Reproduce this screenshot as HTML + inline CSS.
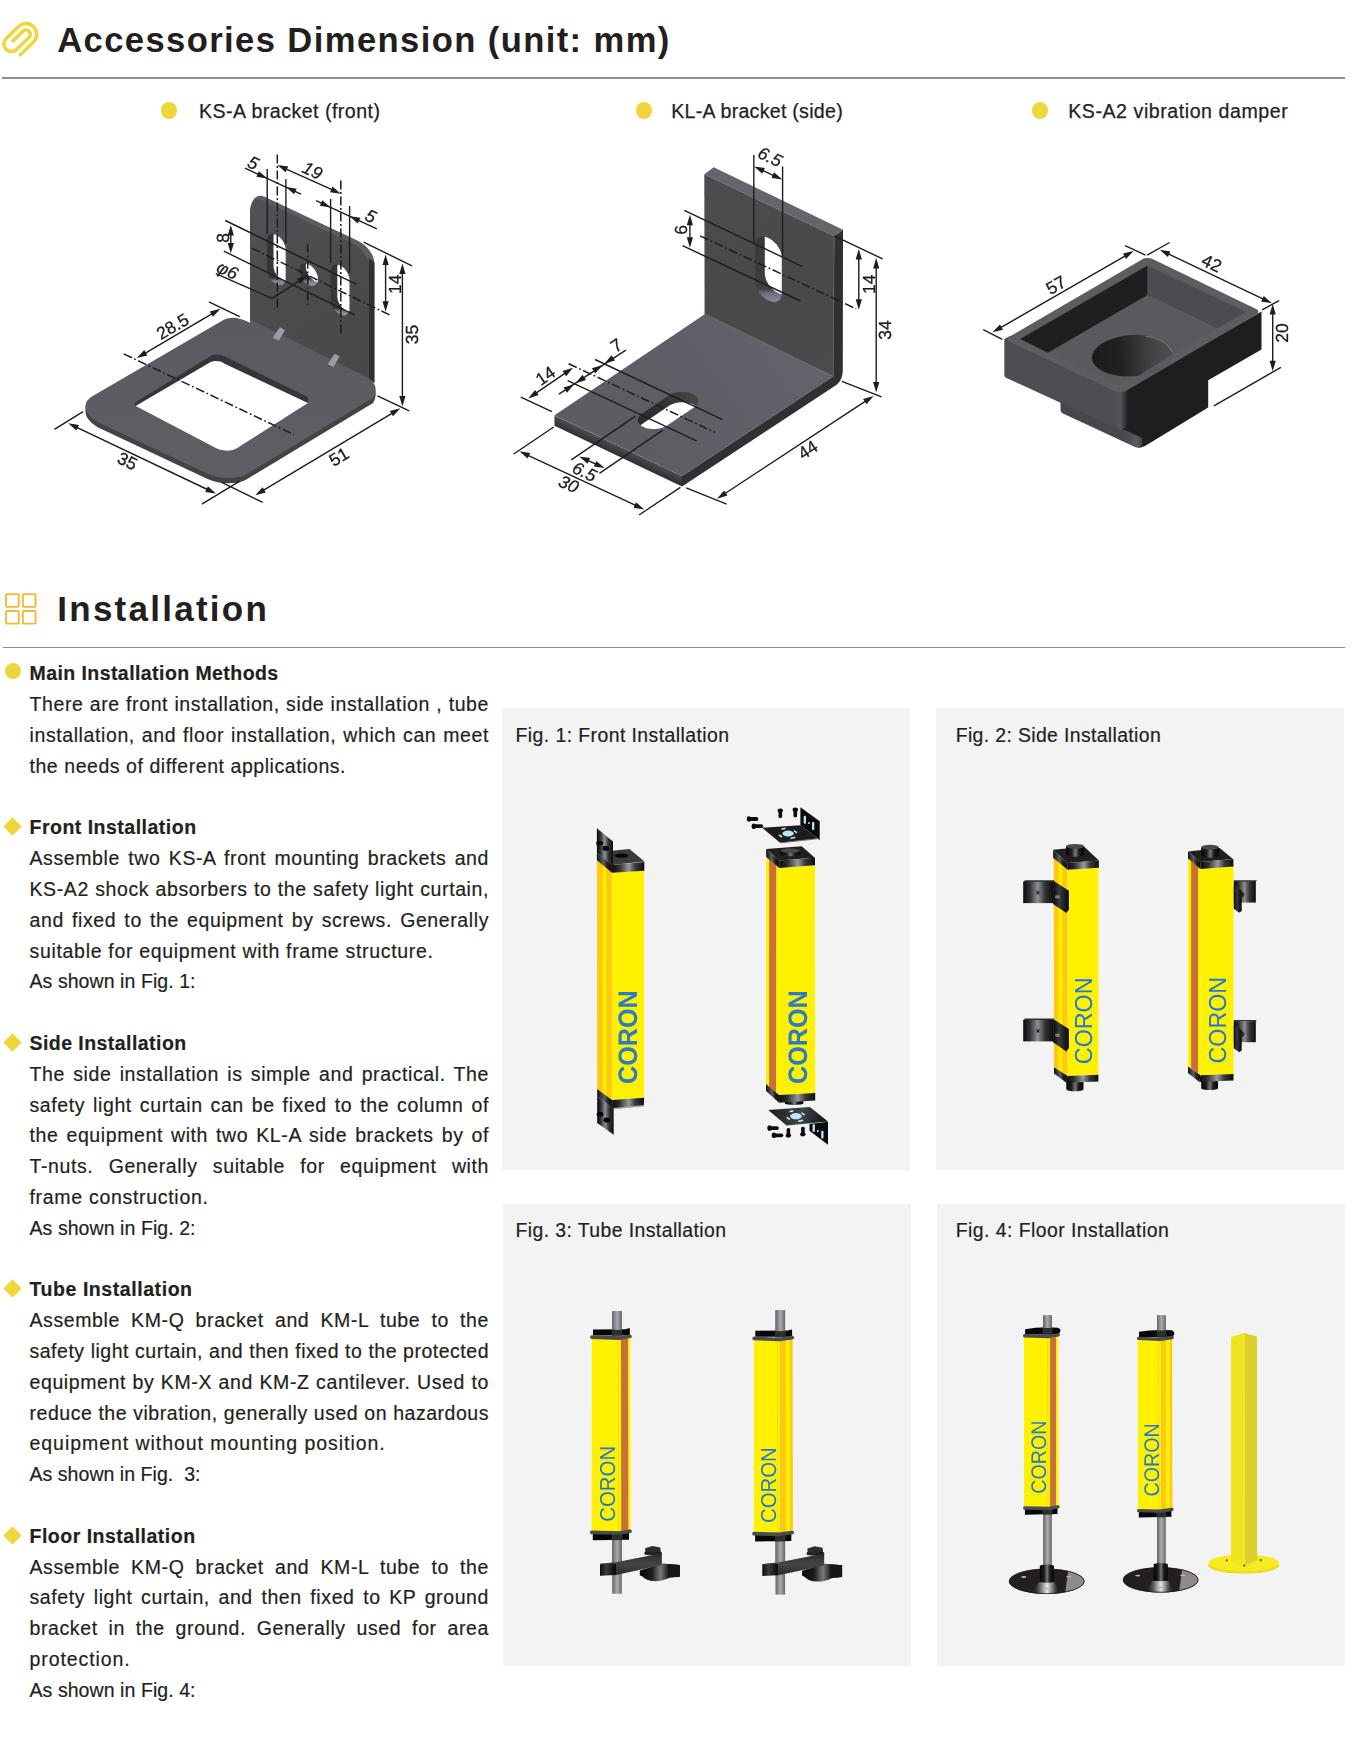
<!DOCTYPE html>
<html lang="en">
<head>
<meta charset="utf-8">
<title>Accessories Dimension and Installation</title>
<style>
*{box-sizing:border-box;margin:0;padding:0}
html,body{width:1364px;height:1747px;background:#fff;overflow:hidden}
body{position:relative;font-family:"Liberation Sans",sans-serif;color:#231f20}
.abs{position:absolute}
.h1{position:absolute;font-weight:700;font-size:34.6px;line-height:40px;white-space:nowrap;color:#231f20}
.rule{position:absolute;left:2px;width:1342.5px;height:1.8px;background:#8f8f90}
.sub{position:absolute;font-size:19.6px;line-height:24px;white-space:nowrap;color:#231f20;-webkit-text-stroke:0.25px #231f20}
.dot{position:absolute;width:16.4px;height:16.4px;border-radius:50%;background:#efd63c}
.dia{position:absolute;width:12.4px;height:12.4px;background:#efd63c;transform:rotate(45deg)}
.ln{position:absolute;left:29.5px;font-size:19.5px;line-height:30.8px;height:30.8px;white-space:nowrap;color:#231f20;-webkit-text-stroke:0.2px #231f20}
.ln.j{text-align:justify;text-align-last:justify;white-space:normal}
.ln.b{font-weight:700}
.panel{position:absolute;background:#f3f3f3}
.cap{position:absolute;font-size:19.4px;line-height:24px;white-space:nowrap;color:#231f20;-webkit-text-stroke:0.2px #231f20}
svg{position:absolute;overflow:visible;will-change:transform}
svg text{font-family:"Liberation Sans",sans-serif;text-rendering:geometricPrecision}
</style>
</head>
<body>
<!-- section 1 header -->
<svg style="left:0;top:18px" width="44" height="42" viewBox="0 18 44 42">
  <path d="M12.82 40.91 L22.94 31.13 A4.4 4.4 0 0 1 29.05 37.46 L16.62 49.47 A7.55 7.55 0 0 1 6.13 38.61 L18.56 26.6 A10.7 10.7 0 0 1 33.43 41.99 L20.14 54.82" fill="none" stroke="#efd63c" stroke-width="3.55" stroke-linecap="round" stroke-linejoin="round"/>
</svg>
<div class="h1" id="t1" style="left:57.2px;top:20.4px;letter-spacing:1.4px">Accessories Dimension (unit: mm)</div>
<div class="rule" style="top:77.2px"></div>

<div class="dot" style="left:161px;top:102.4px"></div>
<div class="sub" id="s1" style="left:198.9px;top:99px;letter-spacing:0.48px">KS-A bracket (front)</div>
<div class="dot" style="left:635.8px;top:102.4px"></div>
<div class="sub" id="s2" style="left:671.2px;top:99px;letter-spacing:0.27px">KL-A bracket (side)</div>
<div class="dot" style="left:1031.8px;top:102.4px"></div>
<div class="sub" id="s3" style="left:1068.2px;top:99px;letter-spacing:0.55px">KS-A2 vibration damper</div>

<!-- section 2 header -->
<svg style="left:0;top:588px" width="44" height="42" viewBox="0 588 44 42">
  <g fill="none" stroke="#efb93b" stroke-width="1.9">
    <rect x="6.05" y="594.15" width="12.7" height="12.7" rx="0.8"/>
    <rect x="22.85" y="594.15" width="12.7" height="12.7" rx="0.8"/>
    <rect x="6.05" y="610.95" width="12.7" height="12.7" rx="0.8"/>
    <rect x="22.85" y="610.95" width="12.7" height="12.7" rx="0.8"/>
  </g>
</svg>
<div class="h1" id="t2" style="left:57.3px;top:589.1px;letter-spacing:2.25px;font-size:35px">Installation</div>
<div class="rule" style="top:646.9px;left:3px;width:1341.5px;height:1.5px"></div>

<!-- figure panels -->
<div class="panel" style="left:502px;top:708px;width:408px;height:462px"></div>
<div class="panel" style="left:936px;top:708px;width:408px;height:462px"></div>
<div class="panel" style="left:503px;top:1204px;width:408px;height:462px"></div>
<div class="panel" style="left:937px;top:1204px;width:408px;height:462px"></div>
<div class="cap" id="c1" style="left:515.6px;top:723px;letter-spacing:0.43px">Fig. 1: Front Installation</div>
<div class="cap" id="c2" style="left:955.7px;top:723px;letter-spacing:0.37px">Fig. 2: Side Installation</div>
<div class="cap" id="c3" style="left:515.5px;top:1218px;letter-spacing:0.42px">Fig. 3: Tube Installation</div>
<div class="cap" id="c4" style="left:955.7px;top:1218px;letter-spacing:0.46px">Fig. 4: Floor Installation</div>
<!-- installation text -->
<div class="ln b" style="top:658.34px;letter-spacing:0.430px">Main Installation Methods</div>
<div class="dot" style="left:4.7px;top:662.9px"></div>
<div class="ln j" style="top:689.14px;width:459.5px;letter-spacing:0.600px">There are front installation, side installation , tube</div>
<div class="ln j" style="top:719.94px;width:459.5px;letter-spacing:0.600px">installation, and floor installation, which can meet</div>
<div class="ln" style="top:750.74px;letter-spacing:0.553px">the needs of different applications.</div>
<div class="ln b" style="top:812.34px;letter-spacing:0.496px">Front Installation</div>
<div class="dia" style="left:6.4px;top:820.2px;width:13px;height:13px"></div>
<div class="ln j" style="top:843.14px;width:459.5px;letter-spacing:0.600px">Assemble two KS-A front mounting brackets and</div>
<div class="ln j" style="top:873.94px;width:459.5px;letter-spacing:0.600px">KS-A2 shock absorbers to the safety light curtain,</div>
<div class="ln j" style="top:904.74px;width:459.5px;letter-spacing:0.600px">and fixed to the equipment by screws. Generally</div>
<div class="ln" style="top:935.54px;letter-spacing:0.686px">suitable for equipment with frame structure.</div>
<div class="ln" style="top:966.34px;letter-spacing:0.071px">As shown in Fig. 1:</div>
<div class="ln b" style="top:1027.94px;letter-spacing:0.445px">Side Installation</div>
<div class="dia" style="left:6.4px;top:1035.8px;width:13px;height:13px"></div>
<div class="ln j" style="top:1058.74px;width:459.5px;letter-spacing:0.600px">The side installation is simple and practical. The</div>
<div class="ln j" style="top:1089.54px;width:459.5px;letter-spacing:0.600px">safety light curtain can be fixed to the column of</div>
<div class="ln j" style="top:1120.34px;width:459.5px;letter-spacing:0.600px">the equipment with two KL-A side brackets by of</div>
<div class="ln j" style="top:1151.14px;width:459.5px;letter-spacing:0.600px">T-nuts. Generally suitable for equipment with</div>
<div class="ln" style="top:1181.94px;letter-spacing:0.699px">frame construction.</div>
<div class="ln" style="top:1212.74px;letter-spacing:0.071px">As shown in Fig. 2:</div>
<div class="ln b" style="top:1274.34px;letter-spacing:0.566px">Tube Installation</div>
<div class="dia" style="left:6.4px;top:1282.2px;width:13px;height:13px"></div>
<div class="ln j" style="top:1305.14px;width:459.5px;letter-spacing:0.600px">Assemble KM-Q bracket and KM-L tube to the</div>
<div class="ln j" style="top:1335.94px;width:459.5px;letter-spacing:0.509px">safety light curtain, and then fixed to the protected</div>
<div class="ln j" style="top:1366.74px;width:459.5px;letter-spacing:0.600px">equipment by KM-X and KM-Z cantilever. Used to</div>
<div class="ln j" style="top:1397.54px;width:459.5px;letter-spacing:0.530px">reduce the vibration, generally used on hazardous</div>
<div class="ln" style="top:1428.34px;letter-spacing:0.949px">equipment without mounting position.</div>
<div class="ln" style="top:1459.14px;letter-spacing:0.046px">As shown in Fig.&nbsp; 3:</div>
<div class="ln b" style="top:1520.74px;letter-spacing:0.500px">Floor Installation</div>
<div class="dia" style="left:6.4px;top:1528.7px;width:13px;height:13px"></div>
<div class="ln j" style="top:1551.54px;width:459.5px;letter-spacing:0.600px">Assemble KM-Q bracket and KM-L tube to the</div>
<div class="ln j" style="top:1582.34px;width:459.5px;letter-spacing:0.600px">safety light curtain, and then fixed to KP ground</div>
<div class="ln j" style="top:1613.14px;width:459.5px;letter-spacing:0.600px">bracket in the ground. Generally used for area</div>
<div class="ln" style="top:1643.94px;letter-spacing:0.912px">protection.</div>
<div class="ln" style="top:1674.74px;letter-spacing:0.071px">As shown in Fig. 4:</div>
<!-- drawing 1: KS-A bracket (front) -->
<svg style="left:0;top:130px" width="480" height="400" viewBox="0 130 480 400">
<defs>
<linearGradient id="d1v" gradientUnits="userSpaceOnUse" x1="250" y1="200" x2="370" y2="380"><stop offset="0" stop-color="#515055"/><stop offset="0.55" stop-color="#4d4a4c"/><stop offset="1" stop-color="#48474a"/></linearGradient>
<linearGradient id="d1h" gradientUnits="userSpaceOnUse" x1="230" y1="320" x2="230" y2="480"><stop offset="0" stop-color="#5a5b61"/><stop offset="1" stop-color="#5e5f65"/></linearGradient>
<linearGradient id="d1s" gradientUnits="userSpaceOnUse" x1="0" y1="230" x2="0" y2="320"><stop offset="0" stop-color="#2b2a2c"/><stop offset="0.86" stop-color="#2f2e30"/><stop offset="0.9" stop-color="#85868d"/><stop offset="1" stop-color="#9a9ba2"/></linearGradient>
</defs>
<path d="M92.7 401.2 L223 325.5 C229 322 238 321.8 250 328 L252 317.3 L368 375.3 L369.6 383.6 L373.1 388 C376.3 390.8 376.6 397.3 373.1 403 L246.4 479.5 C237 484.9 219.4 484.6 207 478.8 L101.9 429.2 C84.4 421 80.3 408.4 92.7 401.2 Z" fill="#434245" />
<path d="M92.7 398.5 L223 322.8 C229 319.3 238 319.1 250 325.3 L252 314.6 L368 372.6 L369.6 380.9 L373.1 385.3 C376.3 388.1 376.6 394.6 373.1 400.3 L246.4 476.8 C237 482.2 219.4 481.9 207 476.1 L101.9 426.5 C84.4 418.3 80.3 405.7 92.7 398.5 Z" fill="#434245" />
<path d="M92.7 395.9 L223 320.2 C229 316.7 238 316.5 250 322.7 L252 312 L368 370 L369.6 378.3 L373.1 382.7 C376.3 385.5 376.6 392 373.1 397.7 L246.4 474.2 C237 479.6 219.4 479.3 207 473.5 L101.9 423.9 C84.4 415.7 80.3 403.1 92.7 395.9 Z M133.2 403.8 L210.9 356.1 C214.5 353.9 221.1 354.3 225.6 356.9 L306.5 396.6 C309.3 398 309.3 400.9 306.5 402.9 L237.3 447.8 C231.1 451.8 220.5 451.4 213.8 447 L137.5 406.9 C134.2 405.1 133.5 402.9 136 402 Z" fill="url(#d1h)" fill-rule="evenodd"/>
<path d="M133.2 403.8 L210.9 356.1 C214.5 353.9 221.1 354.3 225.6 356.9 L306.5 396.6 C309.3 398 309.3 400.9 306.5 402.9 L237.3 447.8 C231.1 451.8 220.5 451.4 213.8 447 L137.5 406.9 C134.2 405.1 133.5 402.9 136 402 Z" fill="#363537" />
<path d="M135.6 406.0 L209.4 362.7 C213.5 360.3 220.1 360.6 224.1 363.5 L307.9 403.1 L237.3 447.9 C231.1 451.9 220.5 451.5 213.8 447.1 Z" fill="#ffffff" />
<path d="M250 321 L250 213 C250 200.3 256.3 193 264 196.6 L358.4 240.9 C367.2 245.3 374.4 255 374.4 262.5 L374.4 383.2 L368.6 378.0 Z" fill="#5c5c61" />
<polygon points="368.6,258 374.4,262.5 374.4,383.2 368.6,378" fill="#2f2e31" />
<path d="M250 319.5 L250 214.5 C250 203.5 255.6 197.2 262.5 200.5 L353 243.4 C361.7 247.5 368.8 257.7 368.8 266 L368.8 378.1 Z" fill="url(#d1v)" />
<defs>
<clipPath id="d1ca"><path d="M285.7 249.7 L285.6 247.8 L285.1 245.9 L284.4 243.9 L283.5 242 L282.3 240.2 L281 238.6 L279.5 237.1 L277.9 235.9 L276.3 234.9 L274.7 234.3 L273.1 234 L271.6 234.1 L270.3 234.5 L269.1 235.2 L268.2 236.2 L267.5 237.5 L267 239 L266.9 240.7 L266.9 269.3 L267 271.2 L267.5 273.1 L268.2 275.1 L269.1 277 L270.3 278.8 L271.6 280.4 L273.1 281.9 L274.7 283.1 L276.3 284.1 L277.9 284.7 L279.5 285 L281 284.9 L282.3 284.5 L283.5 283.8 L284.4 282.8 L285.1 281.5 L285.6 280 L285.7 278.3 Z"/></clipPath>
<clipPath id="d1cb"><path d="M318 279.1 L317.9 277.2 L317.4 275.3 L316.7 273.3 L315.8 271.4 L314.6 269.6 L313.3 268 L311.8 266.5 L310.2 265.3 L308.6 264.4 L307 263.7 L305.4 263.4 L303.9 263.5 L302.6 263.9 L301.4 264.6 L300.5 265.6 L299.8 266.9 L299.3 268.4 L299.2 270.1 L299.2 270.1 L299.3 272 L299.8 273.9 L300.5 275.9 L301.4 277.8 L302.6 279.6 L303.9 281.2 L305.4 282.7 L307 283.9 L308.6 284.9 L310.2 285.5 L311.8 285.8 L313.3 285.7 L314.6 285.3 L315.8 284.6 L316.7 283.6 L317.4 282.3 L317.9 280.8 L318 279.1 Z"/></clipPath>
<clipPath id="d1cc"><path d="M349.5 280.2 L349.4 278.3 L348.9 276.4 L348.2 274.4 L347.3 272.5 L346.1 270.7 L344.8 269.1 L343.3 267.6 L341.7 266.4 L340.1 265.4 L338.5 264.8 L336.9 264.5 L335.4 264.6 L334.1 265 L332.9 265.7 L332 266.7 L331.3 268 L330.8 269.5 L330.7 271.2 L330.7 299.8 L330.8 301.7 L331.3 303.6 L332 305.6 L332.9 307.5 L334.1 309.3 L335.4 310.9 L336.9 312.4 L338.5 313.6 L340.1 314.6 L341.7 315.2 L343.3 315.5 L344.8 315.4 L346.1 315 L347.3 314.3 L348.2 313.3 L348.9 312 L349.4 310.5 L349.5 308.8 Z"/></clipPath>
</defs>
<linearGradient id="d1ga" gradientUnits="userSpaceOnUse" x1="0" y1="234" x2="0" y2="285"><stop offset="0" stop-color="#343235"/><stop offset="0.863" stop-color="#3a3836"/><stop offset="0.912" stop-color="#7c7d84"/><stop offset="1" stop-color="#9b9ca3"/></linearGradient>
<path d="M285.7 249.7 L285.6 247.8 L285.1 245.9 L284.4 243.9 L283.5 242 L282.3 240.2 L281 238.6 L279.5 237.1 L277.9 235.9 L276.3 234.9 L274.7 234.3 L273.1 234 L271.6 234.1 L270.3 234.5 L269.1 235.2 L268.2 236.2 L267.5 237.5 L267 239 L266.9 240.7 L266.9 269.3 L267 271.2 L267.5 273.1 L268.2 275.1 L269.1 277 L270.3 278.8 L271.6 280.4 L273.1 281.9 L274.7 283.1 L276.3 284.1 L277.9 284.7 L279.5 285 L281 284.9 L282.3 284.5 L283.5 283.8 L284.4 282.8 L285.1 281.5 L285.6 280 L285.7 278.3 Z" fill="url(#d1ga)" />
<path d="M292.3 246.1 L292.2 244.2 L291.7 242.3 L291 240.3 L290.1 238.4 L288.9 236.6 L287.6 235 L286.1 233.5 L284.5 232.3 L282.9 231.3 L281.3 230.7 L279.7 230.4 L278.2 230.5 L276.9 230.9 L275.7 231.6 L274.8 232.6 L274.1 233.9 L273.6 235.4 L273.5 237.1 L273.5 265.7 L273.6 267.6 L274.1 269.5 L274.8 271.5 L275.7 273.4 L276.9 275.2 L278.2 276.8 L279.7 278.3 L281.3 279.5 L282.9 280.4 L284.5 281.1 L286.1 281.4 L287.6 281.3 L288.9 280.9 L290.1 280.2 L291 279.2 L291.7 277.9 L292.2 276.4 L292.3 274.7 Z" fill="#ffffff" clip-path="url(#d1ca)"/>
<linearGradient id="d1gb" gradientUnits="userSpaceOnUse" x1="0" y1="263.4" x2="0" y2="285.8"><stop offset="0" stop-color="#343235"/><stop offset="0.687" stop-color="#3a3836"/><stop offset="0.799" stop-color="#7c7d84"/><stop offset="1" stop-color="#9b9ca3"/></linearGradient>
<path d="M318 279.1 L317.9 277.2 L317.4 275.3 L316.7 273.3 L315.8 271.4 L314.6 269.6 L313.3 268 L311.8 266.5 L310.2 265.3 L308.6 264.4 L307 263.7 L305.4 263.4 L303.9 263.5 L302.6 263.9 L301.4 264.6 L300.5 265.6 L299.8 266.9 L299.3 268.4 L299.2 270.1 L299.2 270.1 L299.3 272 L299.8 273.9 L300.5 275.9 L301.4 277.8 L302.6 279.6 L303.9 281.2 L305.4 282.7 L307 283.9 L308.6 284.9 L310.2 285.5 L311.8 285.8 L313.3 285.7 L314.6 285.3 L315.8 284.6 L316.7 283.6 L317.4 282.3 L317.9 280.8 L318 279.1 Z" fill="url(#d1gb)" />
<path d="M324.6 275.5 L324.5 273.6 L324 271.7 L323.3 269.7 L322.4 267.8 L321.2 266 L319.9 264.4 L318.4 262.9 L316.8 261.7 L315.2 260.8 L313.6 260.1 L312 259.8 L310.5 259.9 L309.2 260.3 L308 261 L307.1 262 L306.4 263.3 L305.9 264.8 L305.8 266.5 L305.8 266.5 L305.9 268.4 L306.4 270.3 L307.1 272.3 L308 274.2 L309.2 276 L310.5 277.6 L312 279.1 L313.6 280.3 L315.2 281.2 L316.8 281.9 L318.4 282.2 L319.9 282.1 L321.2 281.7 L322.4 281 L323.3 280 L324 278.7 L324.5 277.2 L324.6 275.5 Z" fill="#ffffff" clip-path="url(#d1cb)"/>
<linearGradient id="d1gc" gradientUnits="userSpaceOnUse" x1="0" y1="264.5" x2="0" y2="315.5"><stop offset="0" stop-color="#343235"/><stop offset="0.863" stop-color="#3a3836"/><stop offset="0.912" stop-color="#7c7d84"/><stop offset="1" stop-color="#9b9ca3"/></linearGradient>
<path d="M349.5 280.2 L349.4 278.3 L348.9 276.4 L348.2 274.4 L347.3 272.5 L346.1 270.7 L344.8 269.1 L343.3 267.6 L341.7 266.4 L340.1 265.4 L338.5 264.8 L336.9 264.5 L335.4 264.6 L334.1 265 L332.9 265.7 L332 266.7 L331.3 268 L330.8 269.5 L330.7 271.2 L330.7 299.8 L330.8 301.7 L331.3 303.6 L332 305.6 L332.9 307.5 L334.1 309.3 L335.4 310.9 L336.9 312.4 L338.5 313.6 L340.1 314.6 L341.7 315.2 L343.3 315.5 L344.8 315.4 L346.1 315 L347.3 314.3 L348.2 313.3 L348.9 312 L349.4 310.5 L349.5 308.8 Z" fill="url(#d1gc)" />
<path d="M356.1 276.6 L356 274.7 L355.5 272.8 L354.8 270.8 L353.9 268.9 L352.7 267.1 L351.4 265.5 L349.9 264 L348.3 262.8 L346.7 261.8 L345.1 261.2 L343.5 260.9 L342 261 L340.7 261.4 L339.5 262.1 L338.6 263.1 L337.9 264.4 L337.4 265.9 L337.3 267.6 L337.3 296.2 L337.4 298.1 L337.9 300 L338.6 302 L339.5 303.9 L340.7 305.7 L342 307.3 L343.5 308.8 L345.1 310 L346.7 310.9 L348.3 311.6 L349.9 311.9 L351.4 311.8 L352.7 311.4 L353.9 310.7 L354.8 309.7 L355.5 308.4 L356 306.9 L356.1 305.2 Z" fill="#ffffff" clip-path="url(#d1cc)"/>
<polygon points="279.8,327.3 285.1,329.9 278.9,340.5 272.8,337.8" fill="#9c9ca4" />
<polygon points="334.4,353.7 339.7,356.3 333.5,366.9 327.7,364.2" fill="#9c9ca4" />
<g>
<line x1="244.9" y1="168.1" x2="301" y2="194.1" stroke="#1d1d1f" stroke-width="1.4"/>
<polygon points="267.2,178.4 256.4,176.8 259,171.2" fill="#1d1d1f" />
<polygon points="285.9,187.1 296.7,188.7 294.1,194.3" fill="#1d1d1f" />
<line x1="267.2" y1="168.9" x2="267.2" y2="233.8" stroke="#1d1d1f" stroke-width="1.4"/>
<line x1="285.9" y1="179" x2="285.9" y2="243.5" stroke="#1d1d1f" stroke-width="1.4"/>
<text transform="translate(253.4 162.6) rotate(25.3)" x="0" y="6.3" text-anchor="middle" font-size="17.5" fill="#1d1d1f" stroke="#1d1d1f" stroke-width="0.3" font-style="italic">5</text>
<line x1="277.3" y1="154.5" x2="277.3" y2="309" stroke="#1d1d1f" stroke-width="1.5" stroke-dasharray="9 2.6 1.8 2.6"/>
<line x1="340.8" y1="180.5" x2="340.8" y2="335" stroke="#1d1d1f" stroke-width="1.5" stroke-dasharray="9 2.6 1.8 2.6"/>
<line x1="307.7" y1="243.8" x2="307.7" y2="307.2" stroke="#1d1d1f" stroke-width="1.5" stroke-dasharray="9 2.6 1.8 2.6"/>
<line x1="282.9" y1="167.6" x2="335.3" y2="191.2" stroke="#1d1d1f" stroke-width="1.4"/>
<polygon points="277.4,165.1 288.2,166.6 285.7,172.2" fill="#1d1d1f" />
<polygon points="340.8,193.7 330,192.2 332.5,186.6" fill="#1d1d1f" />
<text transform="translate(312.6 170.2) rotate(25.3)" x="0" y="6.3" text-anchor="middle" font-size="17.5" fill="#1d1d1f" stroke="#1d1d1f" stroke-width="0.3" font-style="italic">19</text>
<line x1="316.1" y1="200.7" x2="376.8" y2="228.9" stroke="#1d1d1f" stroke-width="1.4"/>
<polygon points="330.6,207.4 319.8,205.8 322.4,200.2" fill="#1d1d1f" />
<polygon points="349.6,216.2 360.4,217.8 357.8,223.4" fill="#1d1d1f" />
<line x1="330.6" y1="199" x2="330.6" y2="263.2" stroke="#1d1d1f" stroke-width="1.4"/>
<line x1="349.6" y1="206" x2="349.6" y2="272.9" stroke="#1d1d1f" stroke-width="1.4"/>
<text transform="translate(370.9 215.9) rotate(25.3)" x="0" y="6.3" text-anchor="middle" font-size="17.5" fill="#1d1d1f" stroke="#1d1d1f" stroke-width="0.3" font-style="italic">5</text>
<line x1="230.8" y1="230.9" x2="230.8" y2="247.5" stroke="#1d1d1f" stroke-width="1.4"/>
<polygon points="230.8,224.9 233.9,235.4 227.7,235.4" fill="#1d1d1f" />
<polygon points="230.8,253.5 227.7,243 233.9,243" fill="#1d1d1f" />
<text transform="translate(222.2 237.9) rotate(-90)" x="0" y="6.3" text-anchor="middle" font-size="17.5" fill="#1d1d1f" stroke="#1d1d1f" stroke-width="0.3" >8</text>
<line x1="225.3" y1="220.5" x2="356.6" y2="284.3" stroke="#1d1d1f" stroke-width="1.4"/>
<line x1="223.8" y1="251.2" x2="354.8" y2="315.1" stroke="#1d1d1f" stroke-width="1.4"/>
<line x1="251.9" y1="248.2" x2="391.8" y2="316" stroke="#1d1d1f" stroke-width="1.5" stroke-dasharray="9 2.6 1.8 2.6"/>
<line x1="215.8" y1="273.7" x2="272.1" y2="298.4" stroke="#1d1d1f" stroke-width="1.4"/>
<line x1="272.1" y1="298.4" x2="301" y2="279.6" stroke="#1d1d1f" stroke-width="1.4"/>
<polygon points="307.3,275.5 300.2,283.8 296.8,278.6" fill="#1d1d1f" />
<text transform="translate(227.6 270) rotate(25.3)" x="0" y="6.3" text-anchor="middle" font-size="17.5" fill="#1d1d1f" stroke="#1d1d1f" stroke-width="0.3" font-style="italic">φ6</text>
<line x1="385.6" y1="260.4" x2="385.6" y2="305.8" stroke="#1d1d1f" stroke-width="1.4"/>
<polygon points="385.6,254.4 388.7,264.9 382.5,264.9" fill="#1d1d1f" />
<polygon points="385.6,311.8 382.5,301.3 388.7,301.3" fill="#1d1d1f" />
<text transform="translate(394.6 284.3) rotate(-90)" x="0" y="6.3" text-anchor="middle" font-size="17.5" fill="#1d1d1f" stroke="#1d1d1f" stroke-width="0.3" >14</text>
<line x1="402.4" y1="269.4" x2="402.4" y2="400.6" stroke="#1d1d1f" stroke-width="1.4"/>
<polygon points="402.4,263.4 405.5,273.9 399.3,273.9" fill="#1d1d1f" />
<polygon points="402.4,406.6 399.3,396.1 405.5,396.1" fill="#1d1d1f" />
<text transform="translate(411.3 334.6) rotate(-90)" x="0" y="6.3" text-anchor="middle" font-size="17.5" fill="#1d1d1f" stroke="#1d1d1f" stroke-width="0.3" >35</text>
<line x1="363.6" y1="242.1" x2="412" y2="265.8" stroke="#1d1d1f" stroke-width="1.4"/>
<line x1="142" y1="355.1" x2="215.2" y2="311.8" stroke="#1d1d1f" stroke-width="1.4"/>
<polygon points="136.8,358.1 144.3,350.1 147.4,355.4" fill="#1d1d1f" />
<polygon points="220.4,308.8 212.9,316.8 209.8,311.5" fill="#1d1d1f" />
<text transform="translate(172.4 326.2) rotate(-30.5)" x="0" y="6.3" text-anchor="middle" font-size="17.5" fill="#1d1d1f" stroke="#1d1d1f" stroke-width="0.3" >28.5</text>
<line x1="208.9" y1="301.8" x2="239.7" y2="316.7" stroke="#1d1d1f" stroke-width="1.4"/>
<line x1="123.7" y1="353.9" x2="293.8" y2="434.6" stroke="#1d1d1f" stroke-width="1.5" stroke-dasharray="9 2.6 1.8 2.6"/>
<line x1="73.6" y1="425.8" x2="210.6" y2="491" stroke="#1d1d1f" stroke-width="1.4"/>
<polygon points="68.2,423.2 79,424.9 76.3,430.5" fill="#1d1d1f" />
<polygon points="216,493.6 205.2,491.9 207.9,486.3" fill="#1d1d1f" />
<text transform="translate(127.4 460.8) rotate(25.5)" x="0" y="6.3" text-anchor="middle" font-size="17.5" fill="#1d1d1f" stroke="#1d1d1f" stroke-width="0.3" >35</text>
<line x1="54.4" y1="429.3" x2="83.1" y2="411.7" stroke="#1d1d1f" stroke-width="1.4"/>
<line x1="201.9" y1="504.1" x2="239.7" y2="481.2" stroke="#1d1d1f" stroke-width="1.4"/>
<line x1="260.3" y1="492.2" x2="395.3" y2="411.3" stroke="#1d1d1f" stroke-width="1.4"/>
<polygon points="255.2,495.3 262.6,487.2 265.8,492.6" fill="#1d1d1f" />
<polygon points="400.4,408.2 393,416.3 389.8,410.9" fill="#1d1d1f" />
<text transform="translate(338.8 456.6) rotate(-31)" x="0" y="6.3" text-anchor="middle" font-size="17.5" fill="#1d1d1f" stroke="#1d1d1f" stroke-width="0.3" >51</text>
<line x1="221.2" y1="482.1" x2="262.6" y2="502.4" stroke="#1d1d1f" stroke-width="1.4"/>
<line x1="377.5" y1="395.9" x2="409.2" y2="410.9" stroke="#1d1d1f" stroke-width="1.4"/>
</g>
</svg>
<!-- drawing 2: KL-A bracket (side) -->
<svg style="left:500px;top:130px" width="440" height="400" viewBox="500 130 440 400">
<defs>
<linearGradient id="d2v" gradientUnits="userSpaceOnUse" x1="704" y1="180" x2="834" y2="376"><stop offset="0" stop-color="#4c4b4f"/><stop offset="0.6" stop-color="#4b4849"/><stop offset="1" stop-color="#4b4a4e"/></linearGradient>
<linearGradient id="d2h" gradientUnits="userSpaceOnUse" x1="600" y1="460" x2="770" y2="340"><stop offset="0" stop-color="#5b5c62"/><stop offset="1" stop-color="#61626a"/></linearGradient>
<linearGradient id="d2f" gradientUnits="userSpaceOnUse" x1="0" y1="0" x2="4.7" y2="-10" gradientTransform="translate(600 448)"><stop offset="0" stop-color="#2e2d2f"/><stop offset="0.8" stop-color="#4a494c"/><stop offset="1" stop-color="#6a6a70"/></linearGradient>
<linearGradient id="d2w" gradientUnits="userSpaceOnUse" x1="0" y1="236" x2="0" y2="302"><stop offset="0" stop-color="#39383b"/><stop offset="0.80" stop-color="#3e3d40"/><stop offset="0.86" stop-color="#6b6c7a"/><stop offset="1" stop-color="#8d8e98"/></linearGradient>
<linearGradient id="d2x" gradientUnits="userSpaceOnUse" x1="640" y1="420" x2="700" y2="395"><stop offset="0" stop-color="#2c2b2d"/><stop offset="0.5" stop-color="#343335"/><stop offset="1" stop-color="#4a494b"/></linearGradient>
</defs>
<path d="M834.2 235.9 L843 229.7 L842.8 369 C842.8 378 840 382.5 834.8 386 L682 486.6 L682 476 L833.1 376.5 Z" fill="#302f31" />
<polygon points="554.5,415.3 682,476 682,486.6 554.5,425.8" fill="url(#d2f)" />
<polygon points="554.5,415.3 705,314.1 833.4,376.6 682,476" fill="url(#d2h)" />
<polygon points="704.3,174.3 713.7,167.3 843,229.7 834.2,235.9" fill="#65666c" />
<polygon points="704.3,174.3 834.2,235.9 833.4,376.6 704.6,314.1" fill="url(#d2v)" />
<line x1="834" y1="236.5" x2="833.3" y2="376.2" stroke="#5f5f64" stroke-width="1.0"/>
<line x1="704.8" y1="314.3" x2="833.2" y2="376.5" stroke="#6c6d74" stroke-width="1.0"/>
<defs><clipPath id="d2c1"><path d="M781.8 257.7 L781.7 255.9 L781.3 254 L780.8 252.1 L780 250.2 L779 248.2 L777.9 246.4 L776.6 244.6 L775.1 242.9 L773.5 241.4 L771.9 240 L770.1 238.9 L768.4 237.9 L766.7 237.2 L764.9 236.7 L763.3 236.4 L761.7 236.4 L760.2 236.7 L758.9 237.2 L757.8 238 L756.8 238.9 L756 240.1 L755.5 241.5 L755.1 243.1 L755 244.7 L755 280.6 L755.1 282.4 L755.5 284.3 L756 286.2 L756.8 288.1 L757.8 290.1 L758.9 291.9 L760.2 293.7 L761.7 295.4 L763.3 296.9 L764.9 298.3 L766.7 299.4 L768.4 300.4 L770.1 301.1 L771.9 301.6 L773.5 301.9 L775.1 301.9 L776.6 301.6 L777.9 301.1 L779 300.3 L780 299.4 L780.8 298.2 L781.3 296.8 L781.7 295.2 L781.8 293.6 Z"/></clipPath></defs>
<path d="M781.8 257.7 L781.7 255.9 L781.3 254 L780.8 252.1 L780 250.2 L779 248.2 L777.9 246.4 L776.6 244.6 L775.1 242.9 L773.5 241.4 L771.9 240 L770.1 238.9 L768.4 237.9 L766.7 237.2 L764.9 236.7 L763.3 236.4 L761.7 236.4 L760.2 236.7 L758.9 237.2 L757.8 238 L756.8 238.9 L756 240.1 L755.5 241.5 L755.1 243.1 L755 244.7 L755 280.6 L755.1 282.4 L755.5 284.3 L756 286.2 L756.8 288.1 L757.8 290.1 L758.9 291.9 L760.2 293.7 L761.7 295.4 L763.3 296.9 L764.9 298.3 L766.7 299.4 L768.4 300.4 L770.1 301.1 L771.9 301.6 L773.5 301.9 L775.1 301.9 L776.6 301.6 L777.9 301.1 L779 300.3 L780 299.4 L780.8 298.2 L781.3 296.8 L781.7 295.2 L781.8 293.6 Z" fill="url(#d2w)" />
<path d="M791.6 250.4 L791.5 248.6 L791.1 246.7 L790.6 244.8 L789.8 242.9 L788.8 240.9 L787.7 239.1 L786.4 237.3 L784.9 235.6 L783.3 234.1 L781.7 232.7 L779.9 231.6 L778.2 230.6 L776.5 229.9 L774.7 229.4 L773.1 229.1 L771.5 229.1 L770 229.4 L768.7 229.9 L767.6 230.7 L766.6 231.6 L765.8 232.8 L765.3 234.2 L764.9 235.8 L764.8 237.4 L764.8 273.3 L764.9 275.1 L765.3 277 L765.8 278.9 L766.6 280.8 L767.6 282.8 L768.7 284.6 L770 286.4 L771.5 288.1 L773.1 289.6 L774.7 291 L776.5 292.1 L778.2 293.1 L779.9 293.8 L781.7 294.3 L783.3 294.6 L784.9 294.6 L786.4 294.3 L787.7 293.8 L788.8 293 L789.8 292.1 L790.6 290.9 L791.1 289.5 L791.5 287.9 L791.6 286.3 Z" fill="#ffffff" clip-path="url(#d2c1)"/>
<defs><clipPath id="d2c2"><path d="M668.7 395.5 L670.3 394.5 L672.1 393.7 L674 393 L676.1 392.4 L678.3 392 L680.5 391.7 L682.7 391.7 L684.9 391.8 L687.1 392 L689.1 392.4 L691 393 L692.8 393.7 L694.3 394.6 L695.7 395.5 L696.7 396.6 L697.6 397.7 L698.1 398.9 L698.4 400.2 L698.3 401.5 L698 402.8 L697.4 404 L696.5 405.2 L695.4 406.4 L694 407.4 L667.5 425.3 L665.9 426.3 L664.1 427.1 L662.2 427.8 L660.1 428.4 L657.9 428.8 L655.7 429.1 L653.5 429.1 L651.3 429 L649.1 428.8 L647.1 428.4 L645.2 427.8 L643.4 427.1 L641.9 426.2 L640.5 425.3 L639.5 424.2 L638.6 423.1 L638.1 421.9 L637.8 420.6 L637.9 419.3 L638.2 418 L638.8 416.8 L639.7 415.6 L640.8 414.4 L642.2 413.4 Z"/></clipPath></defs>
<path d="M668.7 395.5 L670.3 394.5 L672.1 393.7 L674 393 L676.1 392.4 L678.3 392 L680.5 391.7 L682.7 391.7 L684.9 391.8 L687.1 392 L689.1 392.4 L691 393 L692.8 393.7 L694.3 394.6 L695.7 395.5 L696.7 396.6 L697.6 397.7 L698.1 398.9 L698.4 400.2 L698.3 401.5 L698 402.8 L697.4 404 L696.5 405.2 L695.4 406.4 L694 407.4 L667.5 425.3 L665.9 426.3 L664.1 427.1 L662.2 427.8 L660.1 428.4 L657.9 428.8 L655.7 429.1 L653.5 429.1 L651.3 429 L649.1 428.8 L647.1 428.4 L645.2 427.8 L643.4 427.1 L641.9 426.2 L640.5 425.3 L639.5 424.2 L638.6 423.1 L638.1 421.9 L637.8 420.6 L637.9 419.3 L638.2 418 L638.8 416.8 L639.7 415.6 L640.8 414.4 L642.2 413.4 Z" fill="url(#d2x)" />
<path d="M668.7 406 L670.3 405 L672.1 404.2 L674 403.5 L676.1 402.9 L678.3 402.5 L680.5 402.2 L682.7 402.2 L684.9 402.3 L687.1 402.5 L689.1 402.9 L691 403.5 L692.8 404.2 L694.3 405.1 L695.7 406 L696.7 407.1 L697.6 408.2 L698.1 409.4 L698.4 410.7 L698.3 412 L698 413.3 L697.4 414.5 L696.5 415.7 L695.4 416.9 L694 417.9 L667.5 435.8 L665.9 436.8 L664.1 437.6 L662.2 438.3 L660.1 438.9 L657.9 439.3 L655.7 439.6 L653.5 439.6 L651.3 439.5 L649.1 439.3 L647.1 438.9 L645.2 438.3 L643.4 437.6 L641.9 436.7 L640.5 435.8 L639.5 434.7 L638.6 433.6 L638.1 432.4 L637.8 431.1 L637.9 429.8 L638.2 428.5 L638.8 427.3 L639.7 426.1 L640.8 424.9 L642.2 423.9 Z" fill="#ffffff" clip-path="url(#d2c2)"/>
<line x1="759.5" y1="168.9" x2="776.9" y2="177.1" stroke="#1d1d1f" stroke-width="1.4"/>
<polygon points="754.1,166.4 764.9,168 762.3,173.7" fill="#1d1d1f" />
<polygon points="782.3,179.6 771.5,178 774.1,172.3" fill="#1d1d1f" />
<line x1="753.8" y1="155" x2="753.8" y2="242" stroke="#1d1d1f" stroke-width="1.4"/>
<line x1="782.6" y1="166.4" x2="782.6" y2="256.1" stroke="#1d1d1f" stroke-width="1.4"/>
<text transform="translate(770.2 156.6) rotate(25.7)" x="0" y="6.3" text-anchor="middle" font-size="17.5" fill="#1d1d1f" stroke="#1d1d1f" stroke-width="0.3" font-style="italic">6.5</text>
<line x1="689.9" y1="220.8" x2="689.9" y2="241.7" stroke="#1d1d1f" stroke-width="1.4"/>
<polygon points="689.9,214.8 693,225.3 686.8,225.3" fill="#1d1d1f" />
<polygon points="689.9,247.7 686.8,237.2 693,237.2" fill="#1d1d1f" />
<text transform="translate(680.9 229.9) rotate(-90)" x="0" y="6.3" text-anchor="middle" font-size="17.5" fill="#1d1d1f" stroke="#1d1d1f" stroke-width="0.3" >6</text>
<line x1="684.3" y1="210.4" x2="802.5" y2="266.7" stroke="#1d1d1f" stroke-width="1.4"/>
<line x1="682.5" y1="245.6" x2="800.4" y2="301" stroke="#1d1d1f" stroke-width="1.4"/>
<line x1="700.1" y1="235.9" x2="856.2" y2="308.9" stroke="#1d1d1f" stroke-width="1.5" stroke-dasharray="9 2.6 1.8 2.6"/>
<line x1="858.8" y1="255.1" x2="858.8" y2="303.8" stroke="#1d1d1f" stroke-width="1.4"/>
<polygon points="858.8,249.1 861.9,259.6 855.7,259.6" fill="#1d1d1f" />
<polygon points="858.8,309.8 855.7,299.3 861.9,299.3" fill="#1d1d1f" />
<text transform="translate(868.6 284.3) rotate(-90)" x="0" y="6.3" text-anchor="middle" font-size="17.5" fill="#1d1d1f" stroke="#1d1d1f" stroke-width="0.3" >14</text>
<line x1="876.2" y1="263.9" x2="876.2" y2="386.4" stroke="#1d1d1f" stroke-width="1.4"/>
<polygon points="876.2,257.9 879.3,268.4 873.1,268.4" fill="#1d1d1f" />
<polygon points="876.2,392.4 873.1,381.9 879.3,381.9" fill="#1d1d1f" />
<text transform="translate(884.6 329.9) rotate(-90)" x="0" y="6.3" text-anchor="middle" font-size="17.5" fill="#1d1d1f" stroke="#1d1d1f" stroke-width="0.3" >34</text>
<line x1="834.2" y1="235.9" x2="882.6" y2="258.8" stroke="#1d1d1f" stroke-width="1.4"/>
<line x1="533.1" y1="395.1" x2="568.1" y2="371.1" stroke="#1d1d1f" stroke-width="1.4"/>
<polygon points="528.2,398.5 535.1,390 538.6,395.1" fill="#1d1d1f" />
<polygon points="573,367.7 566.1,376.2 562.6,371.1" fill="#1d1d1f" />
<text transform="translate(545.2 375.5) rotate(-34)" x="0" y="6.3" text-anchor="middle" font-size="17.5" fill="#1d1d1f" stroke="#1d1d1f" stroke-width="0.3" >14</text>
<line x1="520.8" y1="397.1" x2="551.9" y2="411.7" stroke="#1d1d1f" stroke-width="1.4"/>
<line x1="558.9" y1="394.1" x2="625.8" y2="350.1" stroke="#1d1d1f" stroke-width="1.4"/>
<polygon points="574,384.3 567,392.7 563.5,387.5" fill="#1d1d1f" />
<polygon points="575.5,383.2 582.5,374.8 586,380" fill="#1d1d1f" />
<polygon points="602.4,365.1 595.4,373.5 591.9,368.3" fill="#1d1d1f" />
<polygon points="604.5,363.6 611.5,355.2 615,360.4" fill="#1d1d1f" />
<text transform="translate(616.3 345.4) rotate(-34)" x="0" y="6.3" text-anchor="middle" font-size="17.5" fill="#1d1d1f" stroke="#1d1d1f" stroke-width="0.3" >7</text>
<line x1="567.7" y1="380.6" x2="696.7" y2="440.8" stroke="#1d1d1f" stroke-width="1.4"/>
<line x1="595" y1="359.5" x2="722.6" y2="419.7" stroke="#1d1d1f" stroke-width="1.4"/>
<line x1="568.6" y1="363.7" x2="714.7" y2="432.3" stroke="#1d1d1f" stroke-width="1.5" stroke-dasharray="9 2.6 1.8 2.6"/>
<line x1="584.7" y1="459" x2="599.2" y2="465.6" stroke="#1d1d1f" stroke-width="1.4"/>
<polygon points="579.2,456.6 590.1,458.1 587.5,463.7" fill="#1d1d1f" />
<polygon points="604.7,468 593.8,466.5 596.4,460.9" fill="#1d1d1f" />
<line x1="635.5" y1="416.1" x2="571.3" y2="459.8" stroke="#1d1d1f" stroke-width="1.4"/>
<line x1="662.8" y1="430.2" x2="599.4" y2="473.3" stroke="#1d1d1f" stroke-width="1.4"/>
<text transform="translate(584.7 471.4) rotate(25)" x="0" y="6.3" text-anchor="middle" font-size="17.5" fill="#1d1d1f" stroke="#1d1d1f" stroke-width="0.3" font-style="italic">6.5</text>
<line x1="524.8" y1="453.8" x2="638.9" y2="506.9" stroke="#1d1d1f" stroke-width="1.4"/>
<polygon points="519.4,451.3 530.2,452.9 527.6,458.5" fill="#1d1d1f" />
<polygon points="644.3,509.4 633.5,507.8 636.1,502.2" fill="#1d1d1f" />
<text transform="translate(568.8 483.9) rotate(25)" x="0" y="6.3" text-anchor="middle" font-size="17.5" fill="#1d1d1f" stroke="#1d1d1f" stroke-width="0.3" font-style="italic">30</text>
<line x1="513.7" y1="454" x2="553.7" y2="427" stroke="#1d1d1f" stroke-width="1.4"/>
<line x1="639" y1="515" x2="680.4" y2="487.4" stroke="#1d1d1f" stroke-width="1.4"/>
<line x1="722" y1="495.5" x2="868.6" y2="399.2" stroke="#1d1d1f" stroke-width="1.4"/>
<polygon points="717,498.8 724.1,490.4 727.5,495.6" fill="#1d1d1f" />
<polygon points="873.6,395.9 866.5,404.3 863.1,399.1" fill="#1d1d1f" />
<text transform="translate(807.6 449.6) rotate(-33.3)" x="0" y="6.3" text-anchor="middle" font-size="17.5" fill="#1d1d1f" stroke="#1d1d1f" stroke-width="0.3" >44</text>
<line x1="686.2" y1="487.9" x2="726.6" y2="504.1" stroke="#1d1d1f" stroke-width="1.4"/>
<line x1="841.9" y1="381.3" x2="881.5" y2="396.8" stroke="#1d1d1f" stroke-width="1.4"/>
</svg>
<!-- drawing 3: KS-A2 vibration damper -->
<svg style="left:960px;top:220px" width="360" height="250" viewBox="960 220 360 250">
<defs>
<linearGradient id="d3hole" gradientUnits="userSpaceOnUse" x1="1092" y1="0" x2="1173" y2="0"><stop offset="0" stop-color="#1b1b1c"/><stop offset="0.35" stop-color="#212122"/><stop offset="0.75" stop-color="#444446"/><stop offset="1" stop-color="#4e4e50"/></linearGradient>
<linearGradient id="d3edge" gradientUnits="userSpaceOnUse" x1="1114" y1="0" x2="1128" y2="0"><stop offset="0" stop-color="#4d4e51"/><stop offset="0.45" stop-color="#555659"/><stop offset="1" stop-color="#1e1e1f"/></linearGradient>
<linearGradient id="d3boss" gradientUnits="userSpaceOnUse" x1="1060" y1="0" x2="1146" y2="0"><stop offset="0" stop-color="#454649"/><stop offset="0.75" stop-color="#48494c"/><stop offset="0.9" stop-color="#5a5b5f"/><stop offset="1" stop-color="#2a2a2b"/></linearGradient>
<clipPath id="d3hc"><ellipse cx="1132.3" cy="355.6" rx="40.6" ry="20.6" transform="rotate(-4 1132.3 355.6)"/></clipPath>
</defs>
<path d="M1120.7 392 L1261.5 311.6 L1261.5 349.5 L1208.2 380.2 L1208.2 407.5 L1145 446 Q1141.5 448 1138 447.8 L1135 440 L1120.7 430.2 Z" fill="#1e1e1f" />
<path d="M1060.5 400 L1120.7 428 L1142 438 L1142 444.5 Q1141 448.5 1135.5 447.3 L1063 413.6 Q1060.5 412.4 1060.5 410 Z" fill="url(#d3boss)" />
<path d="M1004.3 339 L1010 336 L1122 390 L1120.7 430.3 L1006.5 378 Q1004.3 376.9 1004.3 374.5 Z" fill="#4d4e51" />
<polygon points="1114,391 1128,389 1128,426 1120.7,430.3 1114,427.2" fill="url(#d3edge)" />
<path d="M1010 342.1 C1007 340.7 1006.9 338.2 1009.8 336.6 L1142 259.4 C1144.9 257.8 1149.6 257.6 1152.6 259 L1256.1 309 C1259.1 310.4 1259.2 313 1256.3 314.6 L1125.9 391 C1123 392.6 1118.3 392.9 1115.3 391.5 Z" fill="#5c5d61" />
<polygon points="1020.1,338.9 1147.5,265.6 1245.5,311.8 1118.1,385.1" fill="#595a5e" />
<polygon points="1020.1,338.9 1147.5,265.6 1147.5,295 1047.9,352.7" fill="#1f1f20" />
<polygon points="1147.5,265.6 1245.5,311.8 1217.8,328.3 1147.5,295.1" fill="#4b4c4f" />
<ellipse cx="1132.3" cy="355.6" rx="40.6" ry="20.6" transform="rotate(-4 1132.3 355.6)" fill="url(#d3hole)"/>
<path d="M1135 378 L1173.5 353.5 L1180 380 Z" fill="#595a5e" clip-path="url(#d3hc)"/>
<path d="M1146 336.2 Q1166 338.5 1172.6 352.5" fill="none" stroke="#7a7b7f" stroke-width="1.1"/>
<line x1="997.6" y1="329.3" x2="1128.4" y2="254.1" stroke="#1d1d1f" stroke-width="1.4"/>
<polygon points="992.4,332.3 1000,324.4 1003,329.8" fill="#1d1d1f" />
<polygon points="1133.6,251.1 1126,259 1123,253.6" fill="#1d1d1f" />
<text transform="translate(1055.8 284.8) rotate(-30)" x="0" y="6.3" text-anchor="middle" font-size="17.5" fill="#1d1d1f" stroke="#1d1d1f" stroke-width="0.3" >57</text>
<line x1="983.2" y1="329.6" x2="1002.3" y2="339.3" stroke="#1d1d1f" stroke-width="1.4"/>
<line x1="1125.1" y1="245.6" x2="1145.5" y2="255.1" stroke="#1d1d1f" stroke-width="1.4"/>
<line x1="1165.1" y1="252.4" x2="1266.5" y2="300.6" stroke="#1d1d1f" stroke-width="1.4"/>
<polygon points="1159.7,249.8 1170.5,251.5 1167.8,257.1" fill="#1d1d1f" />
<polygon points="1271.9,303.2 1261.1,301.5 1263.8,295.9" fill="#1d1d1f" />
<text transform="translate(1211.8 263) rotate(25)" x="0" y="6.3" text-anchor="middle" font-size="17.5" fill="#1d1d1f" stroke="#1d1d1f" stroke-width="0.3" >42</text>
<line x1="1147.2" y1="255.1" x2="1169.6" y2="242.5" stroke="#1d1d1f" stroke-width="1.4"/>
<line x1="1262" y1="309.8" x2="1279.1" y2="300.6" stroke="#1d1d1f" stroke-width="1.4"/>
<line x1="1272.7" y1="309.9" x2="1272.7" y2="365.3" stroke="#1d1d1f" stroke-width="1.4"/>
<polygon points="1272.7,303.9 1275.8,314.4 1269.6,314.4" fill="#1d1d1f" />
<polygon points="1272.7,371.3 1269.6,360.8 1275.8,360.8" fill="#1d1d1f" />
<text transform="translate(1282 333) rotate(-90)" x="0" y="6.3" text-anchor="middle" font-size="17.5" fill="#1d1d1f" stroke="#1d1d1f" stroke-width="0.3" >20</text>
<line x1="1213.9" y1="405.9" x2="1280.9" y2="367.3" stroke="#1d1d1f" stroke-width="1.4"/>
</svg>
<!-- Fig. 1 illustration -->
<svg style="left:502px;top:760px" width="408" height="410" viewBox="502 760 408 410">
<defs>
<linearGradient id="gBF" x1="0" y1="0" x2="1" y2="0"><stop offset="0" stop-color="#0c0c0c"/><stop offset="0.22" stop-color="#2b2b2c"/><stop offset="0.52" stop-color="#97999e"/><stop offset="0.72" stop-color="#3a3a3b"/><stop offset="1" stop-color="#0e0e0e"/></linearGradient>
<linearGradient id="gBS" x1="0" y1="0" x2="1" y2="0"><stop offset="0" stop-color="#121212"/><stop offset="0.45" stop-color="#5d5e62"/><stop offset="0.7" stop-color="#1f1f20"/><stop offset="1" stop-color="#0a0a0a"/></linearGradient>
<linearGradient id="gPL" x1="0" y1="0" x2="1" y2="0"><stop offset="0" stop-color="#0a0a0a"/><stop offset="0.22" stop-color="#303031"/><stop offset="0.48" stop-color="#8e9095"/><stop offset="0.72" stop-color="#343435"/><stop offset="1" stop-color="#0d0d0d"/></linearGradient>
<linearGradient id="gPD" x1="0" y1="0" x2="1" y2="0"><stop offset="0" stop-color="#0a0a0a"/><stop offset="0.4" stop-color="#3a3b3d"/><stop offset="0.75" stop-color="#1a1a1b"/><stop offset="1" stop-color="#0a0a0a"/></linearGradient>
<linearGradient id="gTU" x1="0" y1="0" x2="1" y2="0"><stop offset="0" stop-color="#636466"/><stop offset="0.5" stop-color="#a9abae"/><stop offset="1" stop-color="#67686a"/></linearGradient>
<linearGradient id="gCY" x1="0" y1="0" x2="1" y2="0"><stop offset="0" stop-color="#050505"/><stop offset="0.3" stop-color="#1c1c1d"/><stop offset="0.52" stop-color="#77797d"/><stop offset="0.72" stop-color="#1c1c1d"/><stop offset="1" stop-color="#050505"/></linearGradient>
<linearGradient id="gAR" x1="0" y1="0" x2="0" y2="1"><stop offset="0" stop-color="#2a2a2c"/><stop offset="0.5" stop-color="#454547"/><stop offset="1" stop-color="#2c2c2e"/></linearGradient>
</defs>
<polygon points="596.9,852.3 629.5,849 644.5,861.6 611.9,864.9" fill="#3b3b3c" />
<ellipse cx="621.4" cy="855.7" rx="7" ry="2.1" fill="#050505"/>
<polygon points="596.9,860.1 611.9,872.6 611.9,1100 597.2,1089" fill="#ffc90e" />
<polygon points="602.8,865 606.4,868 606.5,1096 603,1093.3" fill="#ffee00" />
<polygon points="611.9,872.6 644.1,870.7 644.1,1097.8 611.9,1100" fill="#fff100" />
<polygon points="596.9,852.8 611.9,864.9 611.9,872.8 596.9,860.3" fill="url(#gBS)" />
<polygon points="611.9,864.9 644.3,862 644.3,870.7 611.9,872.8" fill="url(#gBF)" />
<polygon points="596.9,828.2 613,841.4 613,865.8 596.9,852.8" fill="url(#gPL)" />
<rect x="596.2" y="841" width="6.8" height="4.6" rx="2.1" fill="#070707"/>
<rect x="602.5" y="846.1" width="6.8" height="4.6" rx="2.1" fill="#070707"/>
<polygon points="597.2,1089 611.9,1100 613.4,1108.6 597.2,1096.7" fill="url(#gBS)" />
<polygon points="611.9,1100 644.1,1097.8 643.8,1105.9 613.4,1108.9" fill="url(#gBF)" />
<line x1="613.6" y1="1108.6" x2="643.8" y2="1105.7" stroke="#a9acb0" stroke-width="1.4"/>
<polygon points="597.2,1096.7 613.6,1108.6 613.7,1134.8 597.2,1123" fill="url(#gPL)" />
<rect x="596.6" y="1112" width="6.8" height="4.6" rx="2.1" fill="#070707"/>
<rect x="603.5" y="1117.8" width="6.8" height="4.6" rx="2.1" fill="#070707"/>
<text transform="translate(637.4 1084) rotate(-90)" font-size="26.8" font-weight="700" fill="#2a7cc4" textLength="93.8" lengthAdjust="spacingAndGlyphs">CORON</text>
<polygon points="766.1,856.9 779.3,867.9 779.1,1095.1 766,1084.1" fill="#ffee00" />
<polygon points="769.2,859.5 776.2,865.3 776,1092.5 769.1,1086.7" fill="#c8703a" />
<polygon points="779.3,867.9 814.9,865.2 815.2,1093 779.1,1095.1" fill="#fff100" />
<polygon points="766.1,848.9 801.7,846.3 814.9,857.7 779.3,860.4" fill="#231f20" />
<polygon points="766.1,848.9 779.3,860.4 779.3,868.1 766.1,857.1" fill="url(#gBS)" />
<polygon points="779.3,860.4 815,857.7 815,865.2 779.3,868.1" fill="url(#gBF)" />
<path d="M780.4 850.7 L780.4 854 A9.9 2.2 0 0 0 800.2 854 L800.2 850.7 Z" fill="url(#gCY)"/>
<ellipse cx="790.3" cy="850.7" rx="9.9" ry="2.2" fill="#4a4b4e"/>
<path d="M784.9 1100 L784.9 1103.4 A9.2 1.6 0 0 0 803.3 1103.4 L803.3 1100 Z" fill="url(#gCY)"/>
<polygon points="766,1084.1 779.1,1095.1 779.1,1102.8 766,1091.1" fill="url(#gBS)" />
<polygon points="779.1,1095.1 815.2,1093 815.2,1100.4 779.1,1102.8" fill="url(#gBF)" />
<polygon points="800.4,807.2 819.7,821.2 819.7,840.6 818,838.4 800.4,825.2" fill="#0b0b0b" />
<polygon points="762.1,827.8 800.4,825.2 818,838.4 780.1,842.8" fill="#1c1c1d" />
<line x1="780.3" y1="842.9" x2="818.2" y2="838.6" stroke="#6d6f72" stroke-width="1.0"/>
<ellipse cx="788.1" cy="833.5" rx="5.7" ry="2.9" fill="#bfe5f6"/>
<line x1="781.5" y1="829.3" x2="785.5" y2="828.2" stroke="#bfe5f6" stroke-width="1.6"/>
<line x1="793.9" y1="830.6" x2="797" y2="832.8" stroke="#bfe5f6" stroke-width="1.6"/>
<line x1="779" y1="834.8" x2="782" y2="837" stroke="#bfe5f6" stroke-width="1.6"/>
<line x1="790.5" y1="838.5" x2="795.3" y2="837.3" stroke="#bfe5f6" stroke-width="1.6"/>
<rect x="803.7" y="815.8" width="2.3" height="8" rx="1" fill="#bfe5f6"/><rect x="812" y="822" width="2.3" height="8" rx="1" fill="#bfe5f6"/><circle cx="809" cy="823" r="1" fill="#bfe5f6"/>
<ellipse cx="749" cy="819" rx="2.2" ry="2.8" fill="#0b0b0b"/><rect x="748.6" y="817.1" width="9.8" height="3.8" rx="2.1" fill="#0b0b0b"/>
<ellipse cx="753.8" cy="826.2" rx="2.2" ry="2.8" fill="#0b0b0b"/><rect x="753.4" y="824.3" width="9.8" height="3.8" rx="2.1" fill="#0b0b0b"/>
<ellipse cx="780.3" cy="810.6" rx="2.7" ry="2.1" fill="#0b0b0b"/><rect x="778.5" y="810.3" width="3.6" height="7.8" rx="1.5" fill="#0b0b0b"/>
<ellipse cx="795.3" cy="809.7" rx="2.7" ry="2.1" fill="#0b0b0b"/><rect x="793.5" y="809.4" width="3.6" height="7.8" rx="1.5" fill="#0b0b0b"/>
<linearGradient id="f1bb" gradientUnits="userSpaceOnUse" x1="770" y1="1112" x2="826" y2="1122"><stop offset="0" stop-color="#1b1d1d"/><stop offset="0.55" stop-color="#3f4445"/><stop offset="1" stop-color="#141515"/></linearGradient>
<polygon points="768.2,1110 809.9,1106.9 828,1121.5 786.6,1125.4" fill="url(#f1bb)" />
<polygon points="809.5,1124 828,1121.8 828,1144.8 809.5,1130.7" fill="#0b0b0b" />
<ellipse cx="795.9" cy="1116.2" rx="5.7" ry="3.1" fill="#bfe5f6"/>
<line x1="789.5" y1="1111.6" x2="793.5" y2="1110.7" stroke="#bfe5f6" stroke-width="1.6"/>
<line x1="801.5" y1="1112.9" x2="804.6" y2="1115.1" stroke="#bfe5f6" stroke-width="1.6"/>
<line x1="786.8" y1="1117.3" x2="789.8" y2="1119.5" stroke="#bfe5f6" stroke-width="1.6"/>
<line x1="798.3" y1="1121.4" x2="803.1" y2="1120.2" stroke="#bfe5f6" stroke-width="1.6"/>
<rect x="812.6" y="1124.3" width="2.3" height="7.6" rx="1" fill="#bfe5f6"/><rect x="821.2" y="1130.8" width="2.3" height="7.8" rx="1" fill="#bfe5f6"/><circle cx="817.9" cy="1131.1" r="1" fill="#bfe5f6"/>
<ellipse cx="769.5" cy="1128.1" rx="2.2" ry="2.8" fill="#0b0b0b"/><rect x="769.1" y="1126.2" width="9.8" height="3.8" rx="2.1" fill="#0b0b0b"/>
<ellipse cx="773.9" cy="1135.3" rx="2.2" ry="2.8" fill="#0b0b0b"/><rect x="773.5" y="1133.4" width="9.8" height="3.8" rx="2.1" fill="#0b0b0b"/>
<ellipse cx="788.4" cy="1135.6" rx="2.7" ry="2.1" fill="#0b0b0b"/><rect x="786.6" y="1128.1" width="3.6" height="7.8" rx="1.5" fill="#0b0b0b"/>
<ellipse cx="802.9" cy="1134.3" rx="2.7" ry="2.1" fill="#0b0b0b"/><rect x="801.1" y="1126.8" width="3.6" height="7.8" rx="1.5" fill="#0b0b0b"/>
<text transform="translate(806.9 1084) rotate(-90)" font-size="26.8" font-weight="700" fill="#2a7cc4" textLength="93.8" lengthAdjust="spacingAndGlyphs">CORON</text>
</svg>
<!-- Fig. 2 illustration -->
<svg style="left:936px;top:760px" width="408" height="410" viewBox="936 760 408 410">
<polygon points="1053.7,857.7 1067.6,869.6 1067.6,1076.1 1054,1067.3" fill="#ffc90e" />
<polygon points="1058.4,861.7 1062.4,865.1 1062.5,1072.8 1058.6,1070.3" fill="#ffee00" />
<polygon points="1067.6,869.6 1098.4,867.7 1098.4,1074.8 1067.6,1076.1" fill="#fff100" />
<polygon points="1053.1,849.8 1084.3,846.7 1098.9,860.4 1067.2,863" fill="#231f20" />
<polygon points="1053.1,849.8 1067.2,863 1067.6,869.8 1053.1,857.7" fill="url(#gBS)" />
<polygon points="1067.2,863 1098.9,860.4 1098.9,867.7 1067.6,869.8" fill="url(#gBF)" />
<path d="M1066.1 846.3 L1066.1 854.6 A9 2.2 0 0 0 1084.1 854.6 L1084.1 846.3 Z" fill="url(#gCY)"/>
<ellipse cx="1075.1" cy="846.3" rx="9" ry="2.4" fill="#47484b"/>
<path d="M1066.3 1081 L1066.3 1089.3 A8.6 1.9 0 0 0 1083.5 1089.3 L1083.5 1081 Z" fill="url(#gCY)"/>
<polygon points="1054,1067.3 1067.6,1076.1 1066.3,1082.7 1054,1073.5" fill="url(#gBS)" />
<polygon points="1067.6,1076.1 1098.4,1074.8 1098.4,1081.4 1066.3,1082.7" fill="url(#gBF)" />
<polygon points="1023.2,881.9 1025,880.3 1054.2,880.3 1053.1,881.9" fill="#2f2f30" />
<rect x="1023.2" y="881.7" width="30.2" height="21.4" fill="url(#gPL)"/>
<circle cx="1038" cy="892.6" r="2.3" fill="#6f7073"/><path d="M1036.6 891.2 L1039.4 894 M1039.4 891.2 L1036.6 894" stroke="#111" stroke-width="1"/>
<polygon points="1053.1,880.6 1068.9,890.7 1068.9,909.6 1066.3,913.1 1053.1,903.9" fill="url(#gPD)" />
<rect x="1055.2" y="895.2" width="4.8" height="3.4" rx="1.4" fill="#77787b"/>
<polygon points="1023.2,1020.2 1025,1018.6 1054.2,1018.6 1053.1,1020.2" fill="#2f2f30" />
<rect x="1023.2" y="1020" width="30.2" height="21.4" fill="url(#gPL)"/>
<circle cx="1038" cy="1030.9" r="2.3" fill="#6f7073"/><path d="M1036.6 1029.5 L1039.4 1032.3 M1039.4 1029.5 L1036.6 1032.3" stroke="#111" stroke-width="1"/>
<polygon points="1053.1,1018.9 1068.9,1029 1068.9,1047.9 1066.3,1051.4 1053.1,1042.2" fill="url(#gPD)" />
<rect x="1055.2" y="1033.5" width="4.8" height="3.4" rx="1.4" fill="#77787b"/>
<text transform="translate(1092 1064.2) rotate(-90)" font-size="24.6" fill="#2478d0" textLength="86.8" lengthAdjust="spacingAndGlyphs">CORON</text>
<polygon points="1188,858.6 1200.4,868.7 1200.4,1075.3 1188,1066.5" fill="#ffee00" />
<polygon points="1191.1,861.1 1198,866.7 1198,1073.6 1191.1,1068.7" fill="#c8703a" />
<polygon points="1200.4,868.7 1233.5,866.5 1233.5,1074 1200.4,1075.3" fill="#fff100" />
<polygon points="1188,851.6 1219.7,848 1232.9,859 1200.4,862.1" fill="#231f20" />
<polygon points="1188,851.6 1200.4,862.1 1200.4,868.9 1188,858.6" fill="url(#gBS)" />
<polygon points="1200.4,862.1 1233.3,859 1233.5,866.5 1200.4,868.9" fill="url(#gBF)" />
<path d="M1201.2 847.2 L1201.2 855.6 A8.8 2.2 0 0 0 1218.8 855.6 L1218.8 847.2 Z" fill="url(#gCY)"/>
<ellipse cx="1210" cy="847.2" rx="8.8" ry="2.4" fill="#47484b"/>
<path d="M1201.2 1080.3 L1201.2 1088.2 A8.4 1.9 0 0 0 1218 1088.2 L1218 1080.3 Z" fill="url(#gCY)"/>
<polygon points="1188,1066.5 1200.4,1075.3 1199.4,1082 1188,1072.9" fill="url(#gBS)" />
<polygon points="1200.4,1075.3 1233.5,1074 1233.5,1080.6 1199.4,1082" fill="url(#gBF)" />
<polygon points="1233.8,880.3 1256.8,880.3 1255.8,881.9 1233.8,881.9" fill="#2f2f30" />
<rect x="1233.8" y="881.6" width="22" height="21" fill="url(#gPL)"/>
<polygon points="1233.8,885 1241.7,890.7 1241.7,910.9 1239.1,912.7 1233.8,908.7" fill="url(#gPD)" />
<path d="M1241.8 891.5 q3 0.6 2.6 3.4 q-0.4 2.2 -2.6 2.4 Z" fill="#2a2a2b"/>
<polygon points="1233.8,1019.9 1256.8,1019.9 1255.8,1021.5 1233.8,1021.5" fill="#2f2f30" />
<rect x="1233.8" y="1021.2" width="22" height="21" fill="url(#gPL)"/>
<polygon points="1233.8,1024.6 1241.7,1030.3 1241.7,1050.5 1239.1,1052.3 1233.8,1048.3" fill="url(#gPD)" />
<path d="M1241.8 1031.1 q3 0.6 2.6 3.4 q-0.4 2.2 -2.6 2.4 Z" fill="#2a2a2b"/>
<text transform="translate(1225.5 1063.5) rotate(-90)" font-size="24.6" fill="#2478d0" textLength="86.6" lengthAdjust="spacingAndGlyphs">CORON</text>
</svg>
<!-- Fig. 3 illustration -->
<svg style="left:502px;top:1260px" width="409" height="406" viewBox="502 1260 409 406">
<rect x="612.2" y="1311" width="9.6" height="282.8" fill="url(#gTU)"/>
<polygon points="600,1563.9 616.2,1562.3 616.2,1574.9 600,1575.7" fill="url(#gPD)" />
<rect x="612.2" y="1540" width="9.6" height="23.4" fill="url(#gTU)"/>
<path d="M639.8 1570.4 L662.4 1563.4 L679.8 1564.9 L679.8 1576.7 L670 1577.6 Q663 1581.2 655.2 1581.2 Q645.5 1580.8 642.5 1576.6 L639.8 1575.2 Z" fill="url(#gCY)"/>
<polygon points="668,1564 679.8,1564.9 679.8,1576.7 668,1577.6" fill="#161617" />
<polygon points="616,1562.3 661.9,1553.2 661.9,1565.1 616,1574.9" fill="url(#gAR)" />
<line x1="600.2" y1="1564.2" x2="616" y2="1562.7" stroke="#3e3e40" stroke-width="0.9"/>
<path d="M645.2 1548.2 L652.3 1545.9 L660.3 1547.5 L660.8 1552 Q662.6 1552.6 662 1554 Q653 1556.6 644.2 1554.4 Q644 1552.8 645.2 1552.2 Z" fill="#2b2b2d"/>
<path d="M644.6 1552.4 Q653 1555 661.4 1552.2" fill="none" stroke="#141415" stroke-width="1"/>
<polygon points="591.8,1337 621,1338 621.3,1531.5 591.6,1531" fill="#fff100" />
<line x1="618.2" y1="1338" x2="618.4" y2="1531" stroke="#e8d81e" stroke-width="0.8"/>
<polygon points="621,1338 630.3,1336.5 630.6,1530.5 621.3,1531.5" fill="#fff100" />
<polygon points="621,1338 628,1337.5 628.3,1531.2 621.3,1531.5" fill="#c8703a" />
<polygon points="593,1329.5 625,1329.3 629.8,1328.1 629.8,1335.5 593,1335.5" fill="#060606" />
<rect x="612.2" y="1311" width="9.6" height="19" fill="url(#gTU)"/>
<rect x="611.6" y="1329.8" width="10.8" height="5.5" fill="#3a3b3c" opacity="0.75"/>
<path d="M591.9 1337.1 L619.5 1338.2 L630 1336.3" fill="none" stroke="#4a4c4e" stroke-width="3.7" stroke-linecap="round" stroke-linejoin="round"/>
<polygon points="592.8,1533 629,1532 629,1539.8 592.8,1540.3" fill="#060606" />
<rect x="611.6" y="1534" width="10.8" height="6.2" fill="#3a3b3c" opacity="0.75"/>
<path d="M591.7 1532.4 L619.5 1533 L630 1531.2" fill="none" stroke="#4a4c4e" stroke-width="3.7" stroke-linecap="round" stroke-linejoin="round"/>
<text transform="translate(614.9 1521.7) rotate(-90)" font-size="21.6" fill="#2478d0" textLength="75.8" lengthAdjust="spacingAndGlyphs">CORON</text>
<rect x="775.5" y="1310.2" width="9.6" height="284.4" fill="url(#gTU)"/>
<polygon points="762.3,1564.2 778.5,1562.6 778.5,1575.2 762.3,1576" fill="url(#gPD)" />
<rect x="775.5" y="1541.3" width="9.6" height="22.4" fill="url(#gTU)"/>
<path d="M802.1 1570.7 L824.7 1563.7 L842.1 1565.2 L842.1 1577 L832.3 1577.9 Q825.3 1581.5 817.5 1581.5 Q807.8 1581.1 804.8 1576.9 L802.1 1575.5 Z" fill="url(#gCY)"/>
<polygon points="830.3,1564.3 842.1,1565.2 842.1,1577 830.3,1577.9" fill="#161617" />
<polygon points="778.3,1562.6 824.2,1553.5 824.2,1565.4 778.3,1575.2" fill="url(#gAR)" />
<line x1="762.5" y1="1564.5" x2="778.3" y2="1563" stroke="#3e3e40" stroke-width="0.9"/>
<path d="M807.5 1548.5 L814.6 1546.2 L822.6 1547.8 L823.1 1552.3 Q824.9 1552.9 824.3 1554.3 Q815.3 1556.9 806.5 1554.7 Q806.3 1553.1 807.5 1552.5 Z" fill="#2b2b2d"/>
<path d="M806.9 1552.7 Q815.3 1555.3 823.7 1552.5" fill="none" stroke="#141415" stroke-width="1"/>
<polygon points="754.1,1338.3 780.3,1339.3 780.6,1532.8 753.9,1532.3" fill="#fff100" />
<line x1="777.5" y1="1339.3" x2="777.7" y2="1532.3" stroke="#e8d81e" stroke-width="0.8"/>
<polygon points="780.3,1339.3 792.6,1337.8 792.9,1531.8 780.6,1532.8" fill="#ffc90e" />
<polygon points="785.9,1339.3 789.8,1338.8 790.1,1532.5 786.2,1532.8" fill="#fff100" />
<polygon points="755.3,1330.8 787.3,1330.6 792.1,1329.4 792.1,1336.8 755.3,1336.8" fill="#060606" />
<rect x="775.5" y="1310.2" width="9.6" height="21.1" fill="url(#gTU)"/>
<rect x="774.9" y="1331.1" width="10.8" height="5.5" fill="#3a3b3c" opacity="0.75"/>
<path d="M754.2 1338.4 L778.8 1339.5 L792.3 1337.6" fill="none" stroke="#4a4c4e" stroke-width="3.7" stroke-linecap="round" stroke-linejoin="round"/>
<polygon points="755.1,1534.3 791.3,1533.3 791.3,1541.1 755.1,1541.6" fill="#060606" />
<rect x="774.9" y="1535.3" width="10.8" height="6.2" fill="#3a3b3c" opacity="0.75"/>
<path d="M754 1533.7 L778.8 1534.3 L792.3 1532.5" fill="none" stroke="#4a4c4e" stroke-width="3.7" stroke-linecap="round" stroke-linejoin="round"/>
<text transform="translate(775.6 1523) rotate(-90)" font-size="21.6" fill="#2478d0" textLength="75.8" lengthAdjust="spacingAndGlyphs">CORON</text>
</svg>
<!-- Fig. 4 illustration -->
<svg style="left:937px;top:1260px" width="408" height="406" viewBox="937 1260 408 406">
<defs>
<linearGradient id="f4sh" x1="0" y1="0" x2="1" y2="0"><stop offset="0" stop-color="#231f20" stop-opacity="0"/><stop offset="0.3" stop-color="#6a6869"/><stop offset="0.55" stop-color="#e9e9e9"/><stop offset="0.8" stop-color="#5a5858"/><stop offset="1" stop-color="#231f20" stop-opacity="0"/></linearGradient>
</defs>
<clipPath id="f4c0"><ellipse cx="1046.7" cy="1581.3" rx="37.7" ry="12.6"/></clipPath>
<ellipse cx="1046.7" cy="1581.3" rx="37.7" ry="12.6" fill="#231f20"/>
<g clip-path="url(#f4c0)">
<polygon points="1068.2,1570.8 1086.7,1570.8 1086.7,1594.3 1065,1594.3" fill="#8e8a8b" />
<polygon points="1031.7,1594.3 1038.7,1582.3 1054.7,1582.3 1059.7,1594.3" fill="url(#f4sh)" />
</g>
<ellipse cx="1046.7" cy="1581.3" rx="37.4" ry="12.3" fill="none" stroke="#1a1718" stroke-width="0.8"/>
<ellipse cx="1023.8" cy="1577" rx="2.6" ry="0.9" fill="#b9b6b7"/>
<ellipse cx="1068.8" cy="1576.7" rx="2.6" ry="0.9" fill="#b9b6b7"/>
<ellipse cx="1046.7" cy="1588.7" rx="2.6" ry="0.9" fill="#b9b6b7"/>
<rect x="1043.1" y="1315.3" width="8.8" height="250.7" rx="1.2" fill="url(#gTU)"/>
<path d="M1039.8 1565.4 Q1046.8 1563.4 1053.9 1565.4 L1053.9 1581.4 Q1046.8 1584 1039.8 1581.4 Z" fill="url(#gCY)"/>
<polygon points="1023.9,1336.5 1050.1,1337.7 1050.3,1507.2 1024.1,1506.5" fill="#fff100" />
<line x1="1047.6" y1="1337.6" x2="1047.8" y2="1507" stroke="#e8d81e" stroke-width="0.8"/>
<polygon points="1050.1,1337.7 1058.2,1336.2 1058.5,1505.8 1050.3,1507.2" fill="#fff100" />
<polygon points="1050.1,1337.7 1056,1337.2 1056,1506.6 1050.1,1507.1" fill="#c8703a" />
<path d="M1025.1 1329.2 Q1039 1326.6 1058.1 1327.7 L1060.3 1329.6 L1060.3 1331.6 L1058.6 1334.4 L1025.1 1334.4 Z" fill="#060606"/>
<rect x="1042.6" y="1327.6" width="9.8" height="6.6" fill="#3a3b3c" opacity="0.75"/>
<rect x="1043.1" y="1315.3" width="8.8" height="12.7" rx="1.2" fill="url(#gTU)"/>
<path d="M1024.6 1335.8 L1049 1336.6 L1058.3 1334.9" fill="none" stroke="#4a4c4e" stroke-width="3.4" stroke-linecap="round" stroke-linejoin="round"/>
<polygon points="1024.9,1508.5 1057.5,1507.5 1057.5,1514.1 1024.9,1514.8" fill="#060606" />
<rect x="1042.6" y="1509" width="9.8" height="5.8" fill="#3a3b3c" opacity="0.75"/>
<path d="M1024.7 1508 L1049 1508.5 L1058 1506.9" fill="none" stroke="#4a4c4e" stroke-width="3.4" stroke-linecap="round" stroke-linejoin="round"/>
<text transform="translate(1046.2 1493.8) rotate(-90)" font-size="21.2" fill="#2478d0" textLength="73.2" lengthAdjust="spacingAndGlyphs">CORON</text>
<clipPath id="f4c113"><ellipse cx="1160.6" cy="1579.9" rx="37.7" ry="12.6"/></clipPath>
<ellipse cx="1160.6" cy="1579.9" rx="37.7" ry="12.6" fill="#231f20"/>
<g clip-path="url(#f4c113)">
<polygon points="1182.1,1569.4 1200.6,1569.4 1200.6,1592.9 1178.9,1592.9" fill="#8e8a8b" />
<polygon points="1145.6,1592.9 1152.6,1580.9 1168.6,1580.9 1173.6,1592.9" fill="url(#f4sh)" />
</g>
<ellipse cx="1160.6" cy="1579.9" rx="37.4" ry="12.3" fill="none" stroke="#1a1718" stroke-width="0.8"/>
<ellipse cx="1137.7" cy="1575.6" rx="2.6" ry="0.9" fill="#b9b6b7"/>
<ellipse cx="1182.7" cy="1575.3" rx="2.6" ry="0.9" fill="#b9b6b7"/>
<ellipse cx="1160.6" cy="1587.3" rx="2.6" ry="0.9" fill="#b9b6b7"/>
<rect x="1157" y="1315.3" width="8.8" height="249.3" rx="1.2" fill="url(#gTU)"/>
<path d="M1153.7 1564 Q1160.7 1562 1167.8 1564 L1167.8 1580 Q1160.7 1582.6 1153.7 1580 Z" fill="url(#gCY)"/>
<polygon points="1137.8,1339.1 1161.2,1340.3 1161.4,1509.8 1138,1509.1" fill="#fff100" />
<line x1="1158.7" y1="1340.2" x2="1158.9" y2="1509.6" stroke="#e8d81e" stroke-width="0.8"/>
<polygon points="1161.2,1340.3 1172.1,1338.8 1172.4,1508.4 1161.4,1509.8" fill="#ffc90e" />
<polygon points="1166,1340.3 1169.8,1339.8 1169.8,1509.2 1166,1509.7" fill="#fff100" />
<path d="M1139 1331.8 Q1152.9 1329.2 1172 1330.3 L1174.2 1332.2 L1174.2 1334.2 L1172.5 1337 L1139 1337 Z" fill="#060606"/>
<rect x="1156.5" y="1330.2" width="9.8" height="6.6" fill="#3a3b3c" opacity="0.75"/>
<rect x="1157" y="1315.3" width="8.8" height="15.3" rx="1.2" fill="url(#gTU)"/>
<path d="M1138.5 1338.4 L1160.1 1339.2 L1172.2 1337.5" fill="none" stroke="#4a4c4e" stroke-width="3.4" stroke-linecap="round" stroke-linejoin="round"/>
<polygon points="1138.8,1511.1 1171.4,1510.1 1171.4,1516.7 1138.8,1517.4" fill="#060606" />
<rect x="1156.5" y="1511.6" width="9.8" height="5.8" fill="#3a3b3c" opacity="0.75"/>
<path d="M1138.6 1510.6 L1160.1 1511.1 L1171.9 1509.5" fill="none" stroke="#4a4c4e" stroke-width="3.4" stroke-linecap="round" stroke-linejoin="round"/>
<text transform="translate(1158.7 1496.4) rotate(-90)" font-size="21.2" fill="#2478d0" textLength="73.2" lengthAdjust="spacingAndGlyphs">CORON</text>
<ellipse cx="1243.7" cy="1565.2" rx="35.4" ry="8.4" fill="#eadc1a"/>
<ellipse cx="1243.7" cy="1562.9" rx="35.4" ry="8.3" fill="#f7ea1f"/>
<polygon points="1229,1560.6 1244.4,1567.2 1262.5,1560.3 1246.5,1555.2" fill="#f3e51e" />
<polygon points="1231,1336.9 1243.9,1333.1 1244.2,1565.2 1231,1559.5" fill="#f0e41e" />
<polygon points="1243.9,1333.1 1257.1,1336.5 1257.1,1560.3 1244.2,1565.2" fill="#ddcf2d" />
<line x1="1244.1" y1="1334" x2="1244.3" y2="1565" stroke="#f6ea20" stroke-width="1.6"/>
<circle cx="1226.7" cy="1560.3" r="1.1" fill="#5b5a3a"/>
<circle cx="1244.2" cy="1565.6" r="1.1" fill="#5b5a3a"/>
<circle cx="1260.8" cy="1560.2" r="1.1" fill="#5b5a3a"/>
</svg>
</body>
</html>
